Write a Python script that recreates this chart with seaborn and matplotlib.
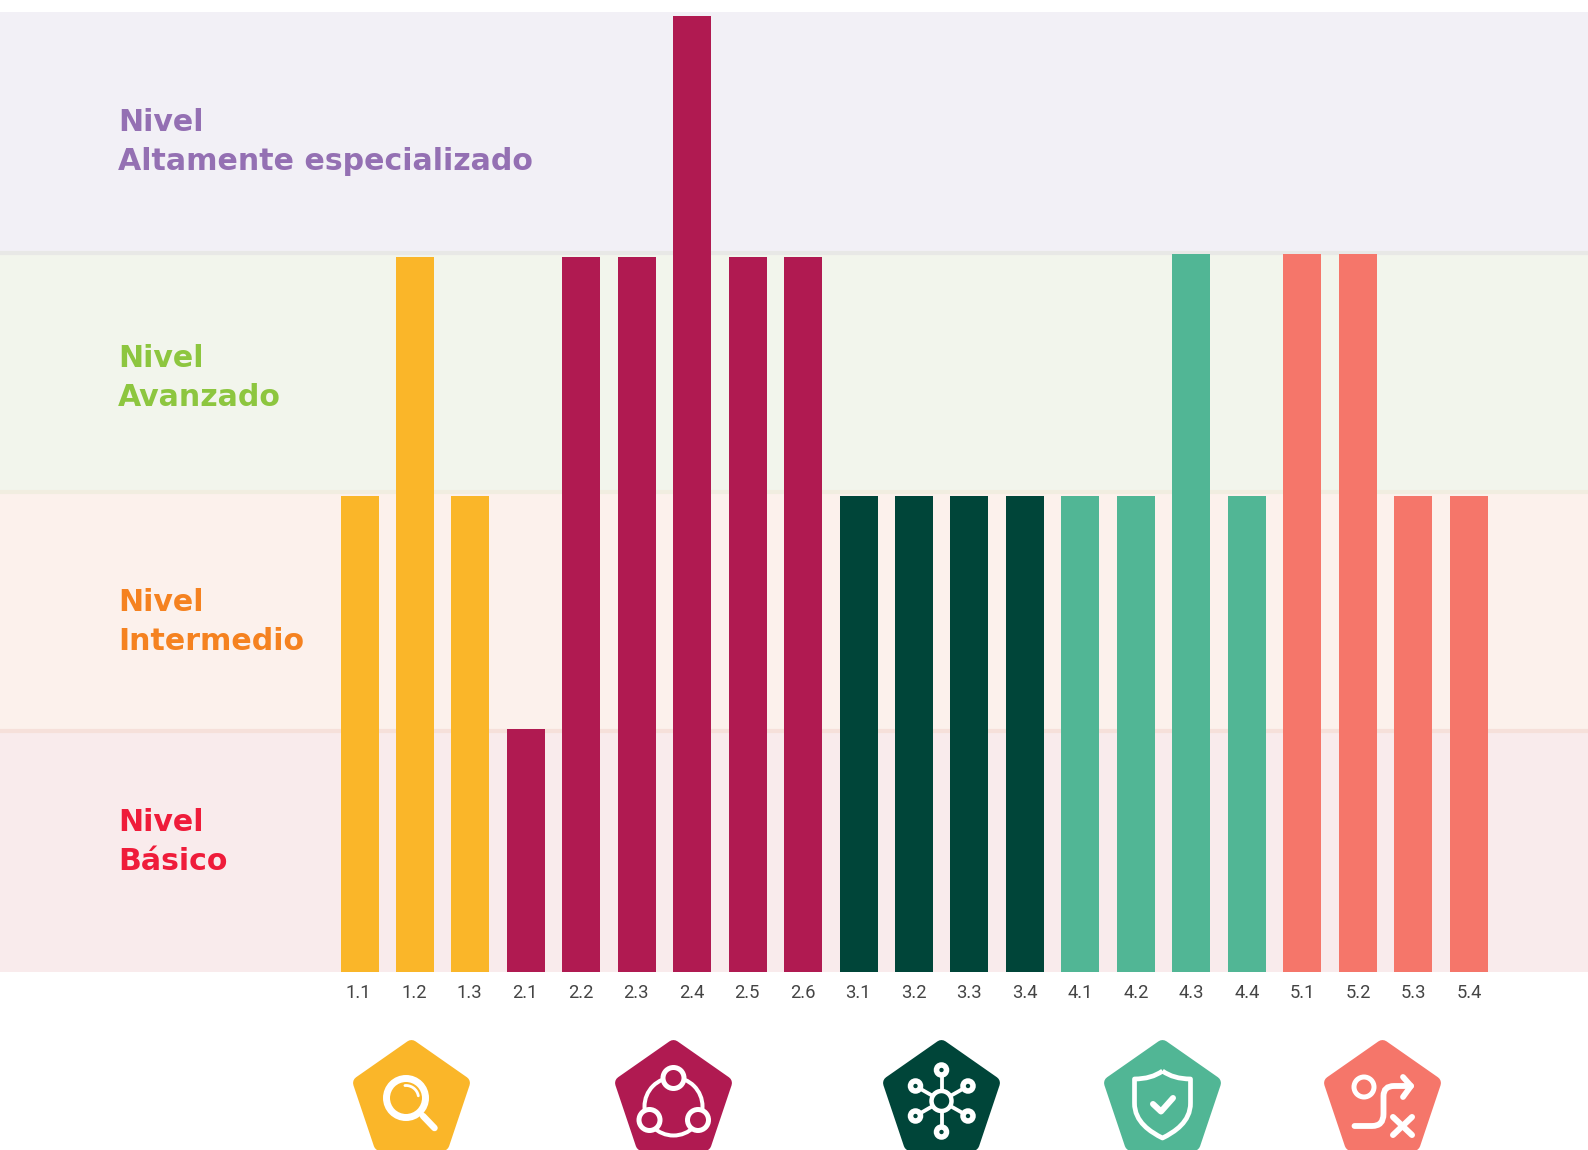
import numpy as np
import pandas as pd
import matplotlib
matplotlib.use("Agg")
import matplotlib.pyplot as plt
from matplotlib.patches import Polygon, Circle, PathPatch
from matplotlib.path import Path
import seaborn as sns

# Data
competencias = ["1.1", "1.2", "1.3", "2.1", "2.2", "2.3", "2.4", "2.5", "2.6", "3.1", "3.2",
                "3.3", "3.4", "4.1", "4.2", "4.3", "4.4", "5.1", "5.2", "5.3", "5.4"]
niveles = [1.99, 2.99, 1.99, 1.015, 2.99, 2.99, 4.0, 2.99, 2.99, 1.99, 1.99,
           1.99, 1.99, 1.99, 1.99, 3.005, 1.99, 3.005, 3.005, 1.99, 1.99]
areas = ["1", "1", "1", "2", "2", "2", "2", "2", "2", "3", "3",
         "3", "3", "4", "4", "4", "4", "5", "5", "5", "5"]
colores_area = {"1": "#FAB629", "2": "#B01A51", "3": "#004539", "4": "#51B695", "5": "#F5766A"}

bandas = [0, 1.01, 2.008, 3.008, 4.017]
colores_banda = ["#F9EBEC", "#FCF1EC", "#F2F5EC", "#F2F0F6"]
colores_linea = ["#F6E0DA", "#F1EDE0", "#E8E8E6"]

etiquetas = [("Nivel\nAltamente especializado", "#9470B3", 131),
             ("Nivel\nAvanzado", "#8DC63F", 367),
             ("Nivel\nIntermedio", "#F58220", 611),
             ("Nivel\nBásico", "#EF1C3A", 831)]

W, H = 1588, 1150
TOP, BASE = 12, 972
UNIDAD = 239.0
PASO = 55.45
CENTRO0 = 359.5

sns.set_theme(style="white")
plt.rcParams["font.family"] = ["Roboto", "DejaVu Sans"]

fig = plt.figure(figsize=(W / 100, H / 100), dpi=100, facecolor="white")
ax = fig.add_axes([0, (H - BASE) / H, 1, (BASE - TOP) / H])

# Bandas de fondo
for i, color in enumerate(colores_banda):
    ax.axhspan(bandas[i], bandas[i + 1], color=color, lw=0, zorder=0)
for y, color in zip(bandas[1:4], colores_linea):
    ax.axhline(y, color=color, lw=3.0, zorder=0.5)

df = pd.DataFrame({"competencia": competencias, "nivel": niveles, "area": areas})
sns.barplot(data=df, x="competencia", y="nivel", hue="area", palette=colores_area,
            dodge=False, width=38 / PASO, saturation=1, legend=False, ax=ax, zorder=2,
            linewidth=0)

ax.set_xlim(-CENTRO0 / PASO, (W - CENTRO0) / PASO)
ax.set_ylim(0, (BASE - TOP) / UNIDAD)
ax.set_xlabel("")
ax.set_ylabel("")
ax.set_yticks([])
# Las etiquetas no van del todo centradas bajo las barras
ax.set_xticks(-0.02 + np.arange(len(competencias)) * 1.0015, competencias)
ax.tick_params(axis="x", length=0, pad=9, labelsize=13.2, labelcolor="#444444")
sns.despine(ax=ax, left=True, bottom=True, top=True, right=True)

# Capa en pixeles para textos e iconos
over = fig.add_axes([0, 0, 1, 1], facecolor="none")
over.set_xlim(0, W)
over.set_ylim(H, 0)
over.axis("off")

for texto, color, base in etiquetas:
    nivel, nombre = texto.split("\n")
    over.text(118, base, nivel, color=color, fontsize=21.6, fontweight="bold",
              family="DejaVu Sans", va="baseline")
    over.text(118, base + 39, nombre, color=color, fontsize=21.6, fontweight="bold",
              family="DejaVu Sans", va="baseline")


def pentagono(cx, color):
    pts = [(cx, 1047), (cx + 51.5, 1083), (cx + 31, 1144), (cx - 31, 1144), (cx - 51.5, 1083)]
    over.add_patch(Polygon(pts, closed=True, facecolor=color, edgecolor=color,
                           lw=10, joinstyle="round", zorder=1))


def linea(xs, ys, lw=4.0):
    over.plot(xs, ys, color="white", lw=lw * 0.72, solid_capstyle="round",
              solid_joinstyle="round", zorder=2)


def anillo(cx, cy, r, lw, fondo="none"):
    over.add_patch(Circle((cx, cy), r, facecolor=fondo, edgecolor="white", lw=lw * 0.72, zorder=3))


# Lupa
pentagono(411.5, colores_area["1"])
anillo(406, 1098, 19.5, 7)
linea([423, 434.5], [1116, 1128], 6.5)
t = np.radians(np.linspace(-95, -10, 20))
linea(406 + 12.5 * np.cos(t), 1098 + 12.5 * np.sin(t), 2.8)

# Tres nodos en circulo
pentagono(673.5, colores_area["2"])
anillo(673.5, 1106.5, 29, 4)
for x, y in [(673.5, 1078), (649.5, 1120), (698, 1120)]:
    anillo(x, y, 10.5, 5, fondo=colores_area["2"])

# Red
pentagono(941.5, colores_area["3"])
satelites = [(941.5, 1070), (915.5, 1086), (968, 1086), (915.5, 1116), (968, 1116), (941.5, 1132)]
for x, y in satelites:
    linea([941.5, x], [1101, y], 3.8)
    anillo(x, y, 5, 5.5, fondo=colores_area["3"])
anillo(941.5, 1101, 10, 4.5, fondo=colores_area["3"])

# Escudo
pentagono(1162.5, colores_area["4"])
cx = 1162.5
verts = [(cx, 1071), (cx + 11, 1079), (cx + 28, 1079), (cx + 28, 1079), (cx + 28, 1103),
         (cx + 28, 1122), (cx + 12, 1132), (cx, 1138), (cx - 12, 1132), (cx - 28, 1122),
         (cx - 28, 1103), (cx - 28, 1079), (cx - 28, 1079), (cx - 11, 1079), (cx, 1071)]
codes = [Path.MOVETO, Path.CURVE3, Path.CURVE3, Path.LINETO, Path.LINETO,
         Path.CURVE4, Path.CURVE4, Path.CURVE4, Path.CURVE4, Path.CURVE4,
         Path.CURVE4, Path.LINETO, Path.LINETO, Path.CURVE3, Path.CURVE3]
over.add_patch(PathPatch(Path(verts, codes), facecolor="none", edgecolor="white",
                         lw=3.4, joinstyle="round", zorder=3))
linea([1153, 1161, 1173], [1104, 1111.5, 1098], 6)

# Ruta con circulo y cruz
pentagono(1382.5, colores_area["5"])
anillo(1364, 1087, 10, 5)
ruta = [(1354.5, 1126), (1372, 1126), (1383.5, 1126), (1383.5, 1114), (1383.5, 1096),
        (1383.5, 1086), (1394, 1086), (1411, 1086)]
over.add_patch(PathPatch(Path(ruta, [Path.MOVETO, Path.LINETO, Path.CURVE3, Path.CURVE3,
                                     Path.LINETO, Path.CURVE3, Path.CURVE3, Path.LINETO]),
                         facecolor="none", edgecolor="white", lw=4.2, capstyle="round", zorder=3))
linea([1403, 1411, 1403], [1077, 1086, 1097], 5.8)
linea([1393, 1412], [1117, 1135], 6)
linea([1412, 1393], [1117, 1135], 6)

fig.savefig("out.png", dpi=100)
